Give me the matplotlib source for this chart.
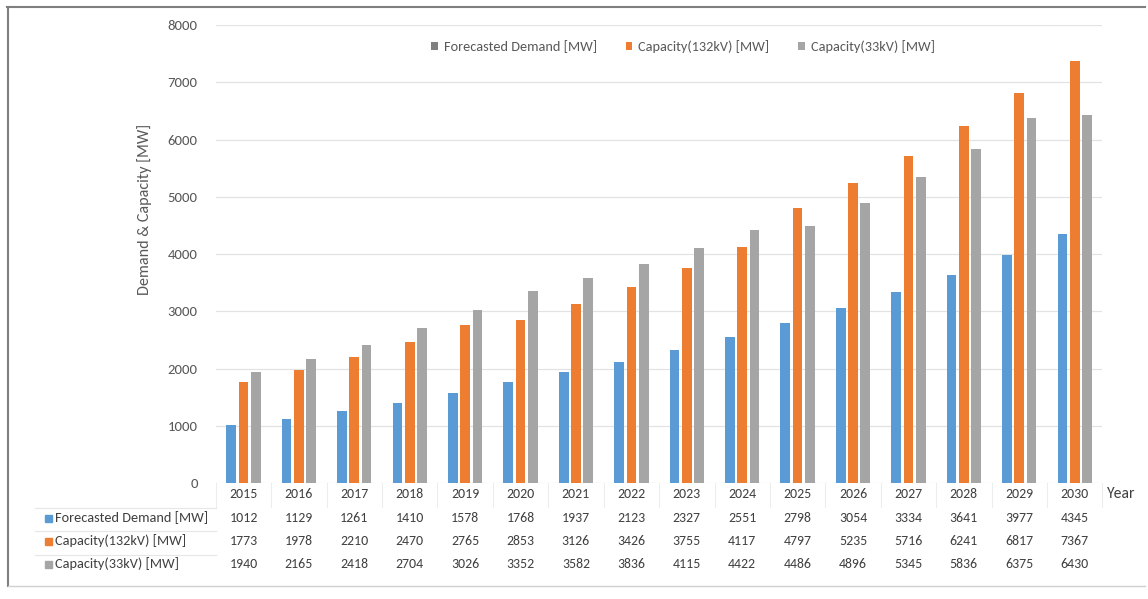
import matplotlib
matplotlib.use("Agg")
import matplotlib.pyplot as plt
import matplotlib.transforms as mtransforms
import numpy as np
from matplotlib.patches import Patch, Rectangle
from matplotlib.lines import Line2D

plt.rcParams['font.family'] = ['Carlito', 'DejaVu Sans']

years = ["2015", "2016", "2017", "2018", "2019", "2020", "2021", "2022",
         "2023", "2024", "2025", "2026", "2027", "2028", "2029", "2030"]
demand = [1012, 1129, 1261, 1410, 1578, 1768, 1937, 2123,
          2327, 2551, 2798, 3054, 3334, 3641, 3977, 4345]
cap_132 = [1773, 1978, 2210, 2470, 2765, 2853, 3126, 3426,
           3755, 4117, 4797, 5235, 5716, 6241, 6817, 7367]
cap_33 = [1940, 2165, 2418, 2704, 3026, 3352, 3582, 3836,
          4115, 4422, 4486, 4896, 5345, 5836, 6375, 6430]

series_names = ["Forecasted Demand [MW]", "Capacity(132kV) [MW]", "Capacity(33kV) [MW]"]
series_colors = ["#5B9BD5", "#ED7D31", "#A5A5A5"]
legend_colors = ["#808080", "#ED7D31", "#A5A5A5"]
series = [demand, cap_132, cap_33]

W, H = 1148, 599
fig = plt.figure(figsize=(W / 100, H / 100), dpi=100)
fig.patch.set_facecolor("white")
renderer = fig.canvas.get_renderer()


def fx(px):
    return px / W


def fy(py):
    return 1 - py / H


def size_for(s, target_px, base=10.0):
    """Font size at which string s is target_px wide."""
    t = fig.text(0, 0, s, fontsize=base)
    w = t.get_window_extent(renderer).width
    t.remove()
    return base * target_px / w


fs_label = size_for("Forecasted Demand [MW]", 154)
fs_num = size_for("2015", 28.5)
fs_tick = size_for("8000", 30)
fs_ylab = size_for("Demand & Capacity [MW]", 172)

ax_left, ax_right = 215.8, 1102.4
ax_top, ax_bot = 25.0, 483.3
ax = fig.add_axes([fx(ax_left), fy(ax_bot), fx(ax_right - ax_left), fy(ax_top) - fy(ax_bot)])

x = np.arange(len(years))
bw = 0.175
step = 0.222
for i, (vals, col) in enumerate(zip(series, series_colors)):
    ax.bar(x + (i - 1) * step, vals, width=bw, color=col, zorder=3)

ax.set_xlim(-0.5, len(years) - 0.5)
ax.set_ylim(0, 8000)
ax.set_yticks(range(0, 8001, 1000))
ax.yaxis.grid(True, color="#E3E3E3", linewidth=0.9, zorder=0)
ax.set_xticks([])
for s in ax.spines.values():
    s.set_visible(False)
ax.tick_params(axis="y", length=0, pad=13, labelsize=fs_tick, labelcolor="#595959")
fig.text(fx(145), fy(209), "Demand & Capacity [MW]", rotation=90, ha="center", va="center",
         fontsize=fs_ylab, color="#595959")

# data table under the plot
txt_col = "#404040"
row_y = [494, 518, 541, 564]
tab = mtransforms.blended_transform_factory(ax.transData, fig.transFigure)
for xi, yr in zip(x, years):
    ax.text(xi, fy(row_y[0]), yr, transform=tab, ha="center", va="center",
            fontsize=fs_num, color=txt_col)
    for r, vals in enumerate(series):
        ax.text(xi, fy(row_y[r + 1]), str(vals[xi]), transform=tab,
                ha="center", va="center", fontsize=fs_num, color=txt_col)
fig.text(fx(1107), fy(row_y[0]), "Year", ha="left", va="center", fontsize=fs_num * 1.12, color=txt_col)

# row headers with colour keys
for r, (name, col) in enumerate(zip(series_names, series_colors)):
    yy = row_y[r + 1]
    fig.add_artist(Rectangle((fx(45), fy(yy + 3.5)), fx(7), fy(yy - 3.5) - fy(yy + 3.5),
                             transform=fig.transFigure, color=col))
    fig.text(fx(55), fy(yy), name, ha="left", va="center", fontsize=fs_label, color=txt_col)

# faint table rules
for yy in (508, 531, 555):
    fig.add_artist(Line2D([fx(35), fx(216)], [fy(yy), fy(yy)], transform=fig.transFigure,
                          color="#E6E6E6", lw=0.8))
for k in range(len(years) + 1):
    xb = ax_left + k * (ax_right - ax_left) / len(years)
    fig.add_artist(Line2D([fx(xb), fx(xb)], [fy(483), fy(507)], transform=fig.transFigure,
                          color="#EDEDED", lw=0.8))

# legend
handles = [Patch(facecolor=c, edgecolor="none") for c in legend_colors]
fig.legend(handles, series_names, loc="center", bbox_to_anchor=(fx(683), fy(47)), ncol=3,
           frameon=False, fontsize=fs_label, labelcolor="#595959", handlelength=0.48,
           handleheight=0.48, handletextpad=0.42, columnspacing=2.0)

# outer frame
fig.add_artist(Line2D([fx(7), fx(1145)], [fy(6.5), fy(6.5)], transform=fig.transFigure, color="#7F7F7F", lw=1.5))
fig.add_artist(Line2D([fx(7.5), fx(7.5)], [fy(6.5), fy(586)], transform=fig.transFigure, color="#7F7F7F", lw=1.5))
fig.add_artist(Line2D([fx(7.5), fx(1145)], [fy(586), fy(586)], transform=fig.transFigure, color="#D0D0D0", lw=1))

fig.savefig("out.png", dpi=100, facecolor="white")
